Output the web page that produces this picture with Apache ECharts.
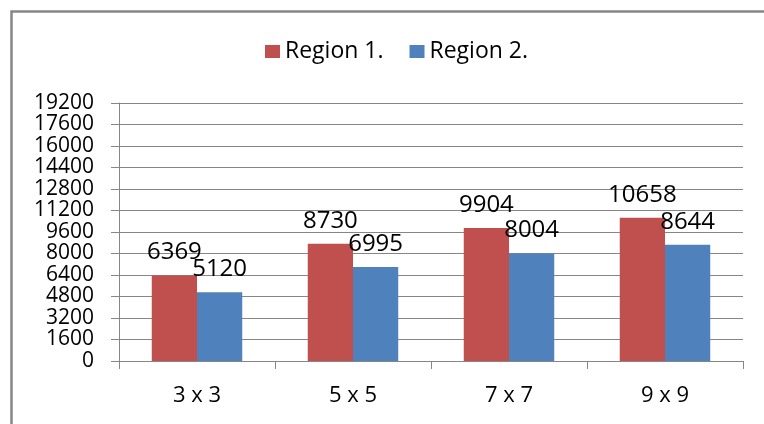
<!DOCTYPE html>
<html>
<head>
<meta charset="utf-8">
<script src="https://cdn.jsdelivr.net/npm/echarts@6/dist/echarts.min.js"></script>
<style>html,body{margin:0;padding:0;background:#fff;}#c{width:764px;height:424px;}</style>
</head>
<body>
<div id="c"></div>
<script>
var categories = ['3 x 3', '5 x 5', '7 x 7', '9 x 9'];
var region1 = [6369, 8730, 9904, 10658];
var region2 = [5120, 6995, 8004, 8644];
var seriesNames = ['Region 1.', 'Region 2.'];
var yMin = 0, yMax = 19200, yStep = 1600;

var FONT = 'Open Sans';
var chart = echarts.init(document.getElementById('c'), null, {renderer: 'canvas'});
chart.setOption({
  animation: false,
  backgroundColor: '#fff',
  textStyle: {fontFamily: FONT, color: '#000'},
  graphic: [{
    type: 'rect', left: 9, top: 9,
    shape: {width: 800, height: 460},
    style: {fill: 'none', stroke: '#868686', lineWidth: 2.5},
    silent: true, z: -1
  }],
  legend: {
    left: 260, top: 35,
    itemWidth: 15, itemHeight: 13, itemGap: 26,
    icon: 'rect',
    textStyle: {fontFamily: FONT, fontSize: 23, color: '#000'},
    data: seriesNames
  },
  grid: {left: 119, right: 21, top: 103, bottom: 63, containLabel: false},
  xAxis: {
    type: 'category', data: categories,
    axisLine: {lineStyle: {color: '#868686', width: 1}},
    axisTick: {show: true, length: 8, alignWithLabel: false, lineStyle: {color: '#868686'}},
    axisLabel: {fontFamily: FONT, fontSize: 22, color: '#000', margin: 24},
    splitLine: {show: false}
  },
  yAxis: {
    type: 'value', min: yMin, max: yMax, interval: yStep,
    axisLine: {show: true, lineStyle: {color: '#868686', width: 1}},
    axisTick: {show: true, length: 8, lineStyle: {color: '#868686'}},
    axisLabel: {fontFamily: FONT, fontSize: 21, color: '#000', margin: 25, lineHeight: 20,
      showMinLabel: true, showMaxLabel: true,
      formatter: function (v) { return String(v); }},
    splitLine: {show: true, lineStyle: {color: '#868686', width: 1}}
  },
  series: [
    {
      name: seriesNames[0], type: 'bar', data: region1,
      barGap: '0%', barCategoryGap: '42%',
      itemStyle: {color: '#C0504D'},
      label: {show: true, position: 'top', distance: 11, fontFamily: FONT, fontSize: 24, color: '#000'}
    },
    {
      name: seriesNames[1], type: 'bar', data: region2,
      barGap: '0%', barCategoryGap: '42%',
      itemStyle: {color: '#4F81BD'},
      label: {show: true, position: 'top', distance: 11, fontFamily: FONT, fontSize: 24, color: '#000'}
    }
  ]
});
</script>
</body>
</html>
